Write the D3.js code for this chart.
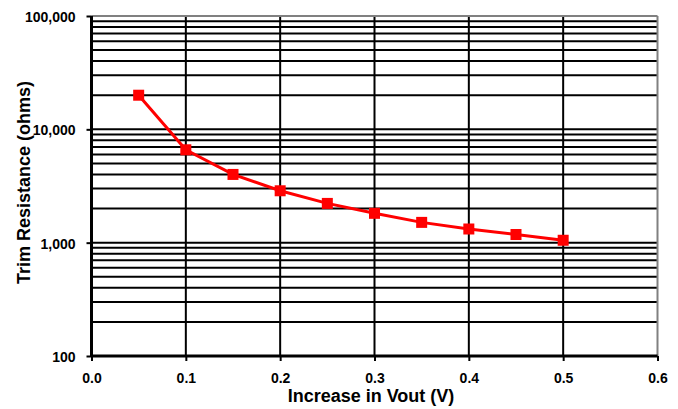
<!DOCTYPE html>
<html><head><meta charset="utf-8">
<script src="https://cdn.jsdelivr.net/npm/d3@7"></script>
<style>body{margin:0;background:#fff;} text{font-family:"Liberation Sans",Arial,sans-serif;font-weight:bold;}</style>
</head><body>
<svg id="c" width="678" height="409"></svg>
<script>
const vout = [0.05,0.10,0.15,0.20,0.25,0.30,0.35,0.40,0.45,0.50];
const trimOhms = [20000,6600,4000,2870,2220,1815,1510,1320,1180,1050];
const xTicks = [0,0.1,0.2,0.3,0.4,0.5,0.6];
const yTicks = [100,1000,10000,100000];

const svg = d3.select("#c");
const L=91.5, R=657.5, T=16, B=356;
const x = d3.scaleLinear().domain([0,0.6]).range([L,R]);
const y = d3.scaleLog().domain([100,100000]).range([B,T]);

const grid = [];
for (let d=100; d<100000; d*=10) for (let k=1;k<=9;k++) grid.push(d*k);

const g = svg.append("g");
g.selectAll("line.h").data(grid.filter(v=>v>100)).enter().append("line")
 .attr("x1",L).attr("x2",R).attr("y1",d=>y(d)).attr("y2",d=>y(d))
 .attr("stroke","#000").attr("stroke-width",2);
g.selectAll("line.v").data(xTicks.filter(v=>v>0 && v<0.6)).enter().append("line")
 .attr("y1",T).attr("y2",B).attr("x1",d=>x(d)).attr("x2",d=>x(d))
 .attr("stroke","#000").attr("stroke-width",2);
svg.append("line").attr("x1",L).attr("x2",R).attr("y1",T).attr("y2",T).attr("stroke","#808080").attr("stroke-width",2);
svg.append("line").attr("x1",R).attr("x2",R).attr("y1",T).attr("y2",B).attr("stroke","#808080").attr("stroke-width",2);

const yAxis = d3.axisLeft(y).tickValues(yTicks).tickFormat(d3.format(",")).tickSize(5).tickPadding(11);
const ya = svg.append("g").attr("transform",`translate(${L},0)`).call(yAxis);
const xAxis = d3.axisBottom(x).tickValues(xTicks).tickFormat(d3.format(".1f")).tickSize(5).tickPadding(12);
const xa = svg.append("g").attr("transform",`translate(0,${B})`).call(xAxis);
[ya,xa].forEach(a=>{
  a.select(".domain").attr("stroke","#000").attr("stroke-width",3);
  a.selectAll(".tick line").attr("stroke","#000").attr("stroke-width",2);
  a.selectAll(".tick text").attr("fill","#000").style("font-size","14px").style("font-weight","bold").style("font-family","Liberation Sans, Arial, sans-serif");
});
ya.selectAll(".tick text").attr("dy","0.4em");
ya.select(".domain").attr("d",`M0,${B}V${T}`);
xa.select(".domain").attr("d",`M${L},0H${R}`);

const line = d3.line().x((d,i)=>x(vout[i])).y(d=>y(d));
svg.append("path").datum(trimOhms).attr("d",line).attr("fill","none").attr("stroke","#ff0000").attr("stroke-width",3);
svg.selectAll("rect.m").data(trimOhms).enter().append("rect")
 .attr("x",(d,i)=>x(vout[i])-5.5).attr("y",d=>y(d)-5.5).attr("width",11).attr("height",11).attr("fill","#ff0000");

svg.append("text").attr("x",371).attr("y",402).attr("text-anchor","middle").style("font-size","18px").text("Increase in Vout (V)");
svg.append("text").attr("transform",`translate(30,182.5) rotate(-90)`).attr("text-anchor","middle").style("font-size","18px").text("Trim Resistance (ohms)");
</script>
</body></html>
